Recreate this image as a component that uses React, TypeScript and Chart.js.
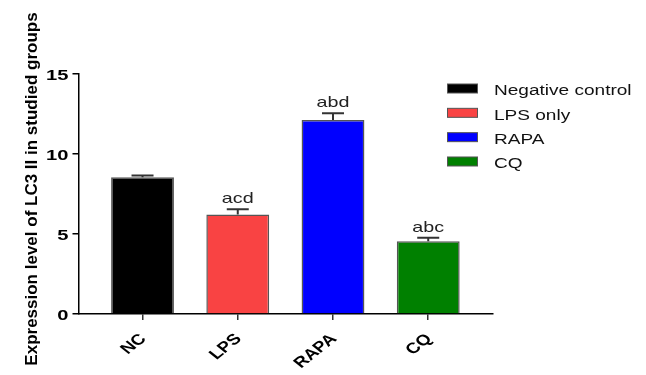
import React, { useEffect, useRef } from 'react';
import { Chart, registerables } from 'chart.js';

Chart.register(...registerables);

const categories = ['NC', 'LPS', 'RAPA', 'CQ'];
const legendLabels = ['Negative control', 'LPS only', 'RAPA', 'CQ'];
const means = [8.55, 6.22, 12.12, 4.54];
const errors = [0.1, 0.32, 0.42, 0.23];
const annotations = ['', 'acd', 'abd', 'abc'];
const colors = ['#000000', '#F94343', '#0000FF', '#008000'];
const yTitle = 'Expression level of LC3 II in studied groups';

const FONT = '"Liberation Sans", Arial, Helvetica, sans-serif';
const STRETCH = 1.3;

const errorBarPlugin = {
  id: 'errorBars',
  afterDatasetsDraw(chart: any) {
    const { ctx, scales } = chart;
    const xs = scales.x;
    const ys = scales.y;
    ctx.save();
    ctx.strokeStyle = '#333333';
    ctx.lineWidth = 2;
    means.forEach((m, i) => {
      const x = xs.getPixelForValue(i);
      const yBar = ys.getPixelForValue(m);
      const yTop = ys.getPixelForValue(m + errors[i]);
      ctx.beginPath();
      ctx.moveTo(x, yBar);
      ctx.lineTo(x, yTop);
      ctx.moveTo(x - 11, yTop);
      ctx.lineTo(x + 11, yTop);
      ctx.stroke();
      if (annotations[i]) {
        ctx.save();
        ctx.translate(x, yTop - 6);
        ctx.scale(1.36, 1);
        ctx.fillStyle = '#222222';
        ctx.font = `14.5px ${FONT}`;
        ctx.textAlign = 'center';
        ctx.textBaseline = 'alphabetic';
        ctx.fillText(annotations[i], 0, 0);
        ctx.restore();
      }
    });
    ctx.restore();
  },
};

const tickLabelPlugin = {
  id: 'tickLabels',
  afterDraw(chart: any) {
    const { ctx, scales } = chart;
    const xs = scales.x;
    const ys = scales.y;
    ctx.save();
    ctx.fillStyle = '#000000';
    // y tick labels
    ctx.font = `bold 15.5px ${FONT}`;
    ctx.textAlign = 'right';
    ctx.textBaseline = 'alphabetic';
    ys.ticks.forEach((t: any) => {
      const py = ys.getPixelForValue(t.value);
      ctx.save();
      ctx.translate(68.5, py + 5.5);
      ctx.scale(STRETCH, 1);
      ctx.fillText(String(t.value), 0, 0);
      ctx.restore();
    });
    // x tick labels (rotated 45deg)
    ctx.font = `bold 15px ${FONT}`;
    ctx.textAlign = 'right';
    xs.ticks.forEach((t: any) => {
      const px = xs.getPixelForValue(t.value);
      const lab = categories[t.value];
      if (!lab) return;
      ctx.save();
      ctx.translate(px + 4.5, xs.top + 25.5);
      ctx.scale(1.25, 1);
      ctx.rotate(-Math.PI / 4);
      ctx.fillText(lab, 0, 0);
      ctx.restore();
    });
    ctx.restore();
  },
};

const legendPlugin = {
  id: 'customLegend',
  afterDraw(chart: any) {
    const { ctx } = chart;
    ctx.save();
    legendLabels.forEach((lab, i) => {
      const cy = 88.5 + 24.33 * i;
      ctx.fillStyle = colors[i];
      ctx.fillRect(447.5, cy - 4.5, 30, 9);
      ctx.strokeStyle = '#555555';
      ctx.lineWidth = 1;
      ctx.strokeRect(447.5, cy - 4.5, 30, 9);
      ctx.save();
      ctx.translate(494, cy + 6.8);
      ctx.scale(1.36, 1);
      ctx.fillStyle = '#111111';
      ctx.font = `14px ${FONT}`;
      ctx.textAlign = 'left';
      ctx.textBaseline = 'alphabetic';
      ctx.fillText(lab, 0, 0);
      ctx.restore();
    });
    ctx.restore();
  },
};

const yTitlePlugin = {
  id: 'yTitle',
  afterDraw(chart: any) {
    const { ctx } = chart;
    ctx.save();
    ctx.translate(37, 189);
    ctx.rotate(-Math.PI / 2);
    ctx.fillStyle = '#000000';
    ctx.font = `bold 17px ${FONT}`;
    ctx.textAlign = 'center';
    ctx.textBaseline = 'alphabetic';
    ctx.fillText(yTitle, 0, 0);
    ctx.restore();
  },
};

export default function App() {
  const ref = useRef<HTMLCanvasElement | null>(null);

  useEffect(() => {
    if (!ref.current) return;
    const chart = new Chart(ref.current, {
      type: 'bar',
      data: {
        datasets: [
          {
            label: 'LC3 II',
            data: means.map((m, i) => ({ x: i, y: m })),
            backgroundColor: colors,
            borderColor: '#555555',
            borderWidth: 1.5,
            barPercentage: 0.66,
            categoryPercentage: 1,
          },
        ],
      },
      options: {
        animation: false,
        responsive: false,
        layout: { padding: { top: 74, right: 153, bottom: 0, left: 0 } },
        plugins: {
          legend: { display: false },
          tooltip: { enabled: false },
        },
        scales: {
          x: {
            type: 'linear',
            offset: false,
            min: -0.667,
            max: 3.68,
            afterBuildTicks: (s: any) => {
              s.ticks = categories.map((_, i) => ({ value: i }));
            },
            afterFit: (s: any) => {
              s.height = 61;
            },
            grid: {
              offset: false,
              drawOnChartArea: false,
              drawTicks: true,
              tickLength: 6,
              color: '#333333',
              lineWidth: 1.5,
            },
            border: { display: true, color: '#000000', width: 1.5 },
            ticks: { display: false, autoSkip: false },
          },
          y: {
            min: 0,
            max: 15,
            afterFit: (s: any) => {
              s.width = 79;
            },
            grid: {
              drawOnChartArea: false,
              drawTicks: true,
              tickLength: 6.5,
              color: '#000000',
              lineWidth: 1.5,
            },
            border: { display: true, color: '#000000', width: 1.5 },
            ticks: { display: false, stepSize: 5 },
          },
        },
      },
      plugins: [errorBarPlugin, tickLabelPlugin, legendPlugin, yTitlePlugin],
    } as any);
    return () => chart.destroy();
  }, []);

  return (
    <div style={{ position: 'fixed', left: 0, top: 0, width: 646, height: 375, background: '#fff' }}>
      <canvas ref={ref} width={646} height={375} />
    </div>
  );
}
